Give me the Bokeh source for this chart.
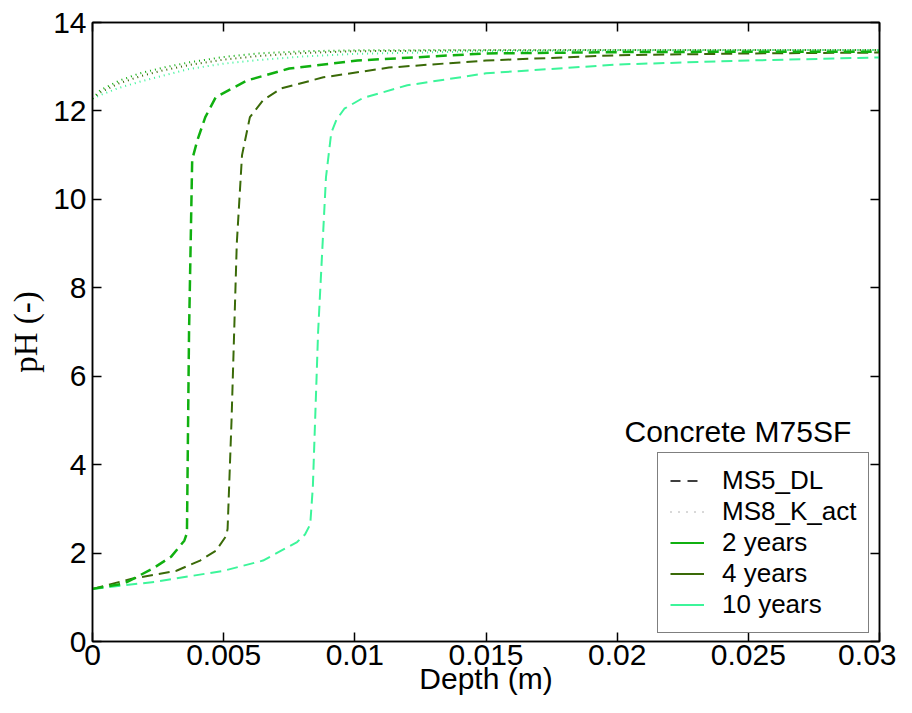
from bokeh.plotting import figure
from bokeh.models import Range1d, LinearAxis, Legend, LegendItem, Label, FixedTicker
from bokeh.embed import file_html
from bokeh.resources import INLINE

# ---- data ----
x_ticks = [0, 0.005, 0.01, 0.015, 0.02, 0.025, 0.03]
x_tick_labels = ["0", "0.005", "0.01", "0.015", "0.02", "0.025", "0.03"]
y_ticks = [0, 2, 4, 6, 8, 10, 12, 14]

ms5_2y_x = [0, 0.0012, 0.0023, 0.0030, 0.0035, 0.0036, 0.00368, 0.0038, 0.0040, 0.0043, 0.0047, 0.0059, 0.0075, 0.0101, 0.015, 0.020, 0.025, 0.030]
ms5_2y_y = [1.19, 1.31, 1.65, 1.92, 2.28, 2.45, 7.0, 10.9, 11.34, 11.86, 12.31, 12.69, 12.96, 13.14, 13.30, 13.33, 13.34, 13.34]

ms5_4y_x = [0, 0.0015, 0.0032, 0.0041, 0.0047, 0.0051, 0.00515, 0.0053, 0.0055, 0.0057, 0.0060, 0.0065, 0.0072, 0.0088, 0.0113, 0.015, 0.020, 0.025, 0.030]
ms5_4y_y = [1.19, 1.42, 1.60, 1.83, 2.05, 2.39, 2.55, 5.0, 9.0, 11.0, 11.86, 12.24, 12.51, 12.76, 12.98, 13.14, 13.26, 13.30, 13.32]

ms5_10y_x = [0, 0.0024, 0.0050, 0.0065, 0.0078, 0.0081, 0.0083, 0.0084, 0.0086, 0.0089, 0.0091, 0.0093, 0.0096, 0.0103, 0.0120, 0.015, 0.020, 0.025, 0.030]
ms5_10y_y = [1.19, 1.35, 1.60, 1.83, 2.25, 2.42, 2.65, 3.5, 7.0, 10.5, 11.5, 11.8, 12.05, 12.29, 12.58, 12.85, 13.05, 13.14, 13.21]

ms8_x = [0, 0.0003, 0.0010, 0.0018, 0.0027, 0.0037, 0.0050, 0.0063, 0.0080, 0.0100, 0.015, 0.020, 0.030]
ms8_2y_y = [12.28, 12.47, 12.68, 12.85, 12.98, 13.10, 13.22, 13.30, 13.35, 13.37, 13.38, 13.38, 13.38]
ms8_4y_y = [12.28, 12.42, 12.62, 12.78, 12.92, 13.04, 13.16, 13.24, 13.31, 13.35, 13.37, 13.38, 13.38]
ms8_10y_y = [12.28, 12.36, 12.52, 12.66, 12.80, 12.95, 13.07, 13.15, 13.23, 13.29, 13.35, 13.37, 13.38]

legend_labels = ["MS5_DL", "MS8_K_act", "2 years", "4 years", "10 years"]

c2 = "#10b010"
c4 = "#3a6a08"
c10 = "#3cf59a"

p = figure(width=896, height=697, output_backend="svg", toolbar_location=None,
           x_range=Range1d(0, 0.03), y_range=Range1d(0, 14),
           min_border_left=92, min_border_top=22, min_border_right=17, min_border_bottom=48)
p.background_fill_color = "white"
p.border_fill_color = "white"
p.outline_line_color = "black"
p.outline_line_width = 1.5
p.xgrid.visible = False
p.ygrid.visible = False

dash = "11 6"
dot = "1 4"
p.line(ms8_x, ms8_10y_y, line_color=c10, line_width=2, line_dash=dot)
p.line(ms8_x, ms8_4y_y, line_color=c4, line_width=2, line_dash=dot)
p.line(ms8_x, ms8_2y_y, line_color=c2, line_width=2, line_dash=dot)
p.line(ms5_10y_x, ms5_10y_y, line_color=c10, line_width=2, line_dash=dash)
p.line(ms5_4y_x, ms5_4y_y, line_color=c4, line_width=2, line_dash=dash)
p.line(ms5_2y_x, ms5_2y_y, line_color=c2, line_width=2.5, line_dash=dash)

# legend dummy renderers
nan = float("nan")
r_a = p.line([nan], [nan], line_color="black", line_width=1.5, line_dash="10 7")
r_b = p.line([nan], [nan], line_color="#666666", line_width=1, line_dash="1 7")
r_c = p.line([nan], [nan], line_color=c2, line_width=2)
r_d = p.line([nan], [nan], line_color=c4, line_width=2)
r_e = p.line([nan], [nan], line_color=c10, line_width=2)

font = "Liberation Sans"

# axes
for ax in (p.xaxis[0], p.yaxis[0]):
    ax.axis_line_color = "black"
    ax.axis_line_width = 1.5
    ax.major_tick_in = 9
    ax.major_tick_out = 0
    ax.minor_tick_in = 0
    ax.minor_tick_out = 0
    ax.major_tick_line_width = 1.5
    ax.major_label_text_font = font
    ax.major_label_text_font_size = "30px"
    ax.major_label_text_color = "black"
    ax.axis_label_text_color = "black"

p.xaxis[0].ticker = FixedTicker(ticks=x_ticks)
p.xaxis[0].major_label_overrides = {t: l for t, l in zip(x_ticks, x_tick_labels)}
p.xaxis[0].major_label_standoff = 3
p.xaxis[0].axis_label = "Depth (m)"
p.xaxis[0].axis_label_text_font = font
p.xaxis[0].axis_label_text_font_size = "30px"
p.xaxis[0].axis_label_text_font_style = "normal"
p.xaxis[0].axis_label_standoff = -6

p.yaxis[0].ticker = FixedTicker(ticks=y_ticks)
p.yaxis[0].major_label_standoff = 6
p.yaxis[0].axis_label = "pH (-)"
p.yaxis[0].axis_label_text_font = "Liberation Serif"
p.yaxis[0].axis_label_text_font_size = "33px"
p.yaxis[0].axis_label_text_font_style = "normal"
p.yaxis[0].axis_label_standoff = 6

top_ax = LinearAxis(ticker=FixedTicker(ticks=x_ticks), major_label_text_font_size="0px",
                    major_tick_in=9, major_tick_out=0, minor_tick_in=0, minor_tick_out=0,
                    axis_line_width=1.5, major_tick_line_width=1.5, major_label_standoff=0)
right_ax = LinearAxis(ticker=FixedTicker(ticks=y_ticks), major_label_text_font_size="0px",
                      major_tick_in=9, major_tick_out=0, minor_tick_in=0, minor_tick_out=0,
                      axis_line_width=1.5, major_tick_line_width=1.5, major_label_standoff=0)
top_ax.major_label_overrides = {t: "" for t in x_ticks}
right_ax.major_label_overrides = {t: "" for t in y_ticks}
p.add_layout(top_ax, "above")
p.add_layout(right_ax, "right")

legend = Legend(items=[LegendItem(label=l, renderers=[r]) for l, r in
                       zip(legend_labels, [r_a, r_b, r_c, r_d, r_e])],
                location=(565, 8))
legend.label_text_font = font
legend.label_text_font_size = "26px"
legend.label_text_color = "black"
legend.label_height = 31
legend.glyph_height = 31
legend.glyph_width = 34
legend.spacing = 0
legend.padding = 12
legend.margin = 0
legend.label_standoff = 18
legend.border_line_color = "black"
legend.border_line_width = 1.5
legend.background_fill_alpha = 1
p.add_layout(legend, "center")

title = Label(x=532, y=210, x_units="screen", y_units="screen", text="Concrete M75SF",
              text_font=font, text_font_size="30px", text_color="black",
              text_baseline="alphabetic")
p.add_layout(title)

open("out.html", "w").write(file_html(p, INLINE))
